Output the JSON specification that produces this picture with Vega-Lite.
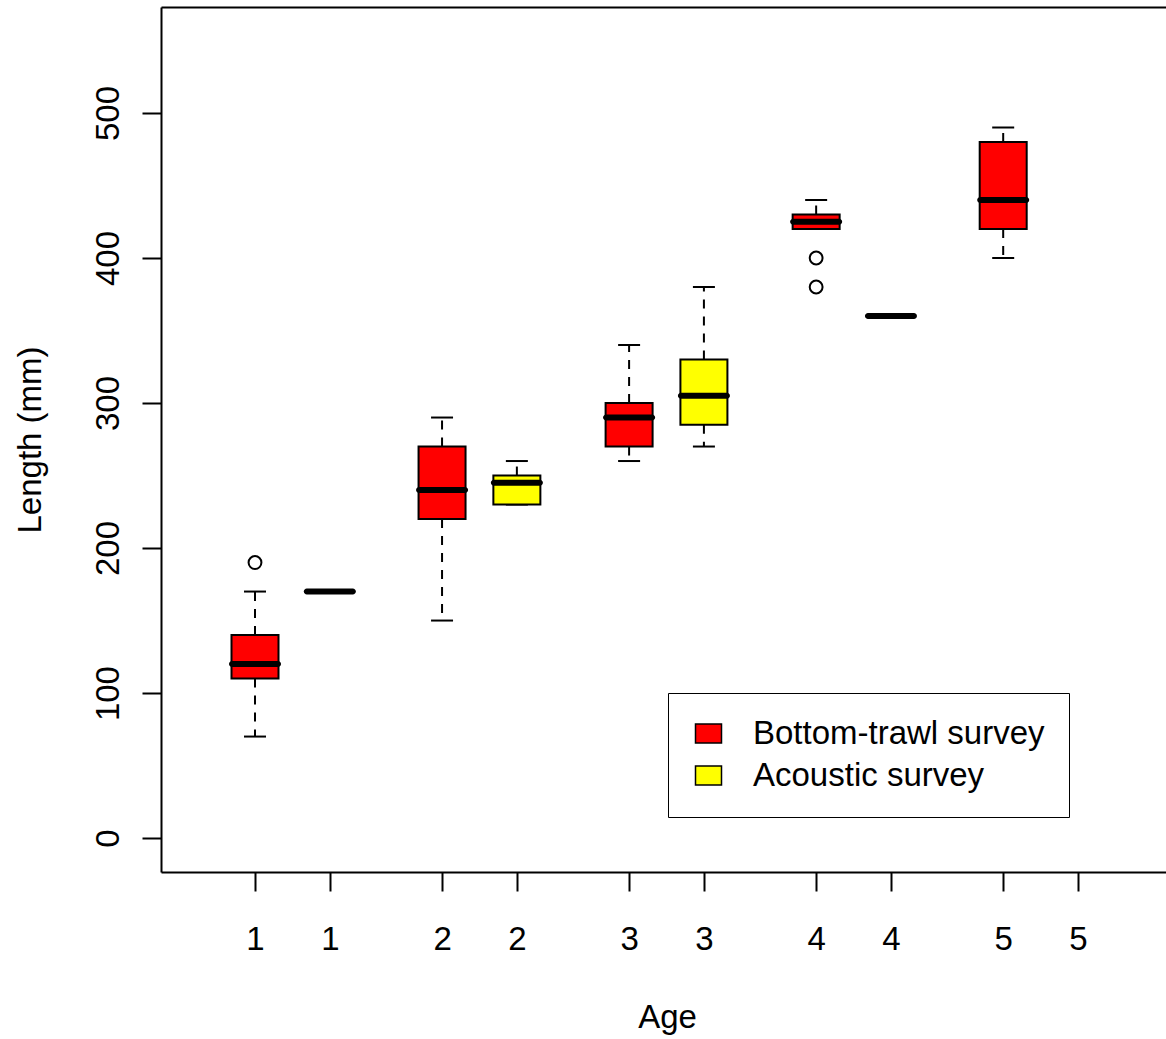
{
  "$schema": "https://vega.github.io/schema/vega-lite/v6.json",
  "width": 1005,
  "height": 865,
  "autosize": "none",
  "padding": {"left": 161, "top": 7, "right": 0, "bottom": 167},
  "background": "white",
  "config": {
    "view": {"stroke": null},
    "font": "Liberation Sans",
    "axis": {
      "grid": false,
      "domainColor": "black",
      "domainWidth": 2,
      "tickColor": "black",
      "tickWidth": 2,
      "labelColor": "black",
      "titleColor": "black",
      "labelFont": "Liberation Sans",
      "titleFont": "Liberation Sans",
      "labelFontSize": 33,
      "titleFontSize": 33,
      "titleFontWeight": "normal"
    }
  },
  "datasets": {
    "boxes": [
      {"pos": 1, "survey": "Bottom-trawl survey", "lower": 70, "q1": 110, "median": 120, "q3": 140, "upper": 170},
      {"pos": 2, "survey": "Acoustic survey", "lower": 170, "q1": 170, "median": 170, "q3": 170, "upper": 170},
      {"pos": 3.5, "survey": "Bottom-trawl survey", "lower": 150, "q1": 220, "median": 240, "q3": 270, "upper": 290},
      {"pos": 4.5, "survey": "Acoustic survey", "lower": 230, "q1": 230, "median": 245, "q3": 250, "upper": 260},
      {"pos": 6, "survey": "Bottom-trawl survey", "lower": 260, "q1": 270, "median": 290, "q3": 300, "upper": 340},
      {"pos": 7, "survey": "Acoustic survey", "lower": 270, "q1": 285, "median": 305, "q3": 330, "upper": 380},
      {"pos": 8.5, "survey": "Bottom-trawl survey", "lower": 420, "q1": 420, "median": 425, "q3": 430, "upper": 440},
      {"pos": 9.5, "survey": "Acoustic survey", "lower": 360, "q1": 360, "median": 360, "q3": 360, "upper": 360},
      {"pos": 11, "survey": "Bottom-trawl survey", "lower": 400, "q1": 420, "median": 440, "q3": 480, "upper": 490}
    ],
    "outliers": [
      {"pos": 1, "survey": "Bottom-trawl survey", "value": 190},
      {"pos": 8.5, "survey": "Bottom-trawl survey", "value": 400},
      {"pos": 8.5, "survey": "Bottom-trawl survey", "value": 380}
    ]
  },
  "layer": [
    {
      "data": {"name": "boxes"},
      "mark": {"type": "rule", "strokeDash": [9, 8], "strokeWidth": 2, "color": "black", "strokeCap": "butt"},
      "encoding": {
        "x": {"field": "pos", "type": "quantitative", "scale": {"domain": [-0.2564, 13.176], "nice": false, "zero": false, "padding": 0},
          "axis": {"orient": "bottom", "values": [1, 2, 3.5, 4.5, 6, 7, 8.5, 9.5, 11, 12],
            "labelExpr": "floor((datum.value - 1) / 2.5) + 1",
            "tickSize": 19, "labelPadding": 58, "labelBaseline": "alphabetic", "labelAlign": "center",
            "labelFlush": false, "labelOverlap": false,
            "title": "Age", "titleBaseline": "alphabetic", "titleX": 506, "titleY": 155, "titleAlign": "center"}},
        "y": {"field": "q1", "type": "quantitative", "scale": {"domain": [-23.4, 573.1], "nice": false, "zero": false, "padding": 0},
          "axis": {"values": [0, 100, 200, 300, 400, 500], "tickSize": 19, "labelAngle": -90, "labelAlign": "center",
            "labelBaseline": "alphabetic", "labelPadding": 24, "labelFlush": false, "labelOverlap": false,
            "title": "Length (mm)", "titleAngle": -90, "titleBaseline": "alphabetic", "titleAlign": "center",
            "titleX": -121, "titleY": 432.5}},
        "y2": {"field": "lower"}
      }
    },
    {
      "data": {"name": "boxes"},
      "mark": {"type": "rule", "strokeDash": [9, 8], "strokeWidth": 2, "color": "black", "strokeCap": "butt"},
      "encoding": {
        "x": {"field": "pos", "type": "quantitative", "axis": null},
        "y": {"field": "q3", "type": "quantitative", "title": "Length (mm)"},
        "y2": {"field": "upper"}
      }
    },
    {
      "data": {"name": "boxes"},
      "mark": {"type": "tick", "orient": "horizontal", "size": 22, "thickness": 2, "color": "black", "opacity": 1},
      "encoding": {
        "x": {"field": "pos", "type": "quantitative", "axis": null},
        "y": {"field": "lower", "type": "quantitative", "title": "Length (mm)"}
      }
    },
    {
      "data": {"name": "boxes"},
      "mark": {"type": "tick", "orient": "horizontal", "size": 22, "thickness": 2, "color": "black", "opacity": 1},
      "encoding": {
        "x": {"field": "pos", "type": "quantitative", "axis": null},
        "y": {"field": "upper", "type": "quantitative", "title": "Length (mm)"}
      }
    },
    {
      "data": {"name": "boxes"},
      "mark": {"type": "bar", "size": 47, "stroke": "black", "strokeWidth": 2, "opacity": 1},
      "encoding": {
        "x": {"field": "pos", "type": "quantitative", "axis": null},
        "y": {"field": "q1", "type": "quantitative", "title": "Length (mm)"},
        "y2": {"field": "q3"},
        "fill": {"field": "survey", "type": "nominal",
          "scale": {"domain": ["Bottom-trawl survey", "Acoustic survey"], "range": ["#FF0000", "#FFFF00"]},
          "legend": {"orient": "none", "legendX": 507, "legendY": 686, "title": null,
            "strokeColor": "black", "padding": 24, "rowPadding": 8,
            "symbolType": "M-1,-0.73H1V0.73H-1Z", "symbolSize": 676, "symbolStrokeColor": "black",
            "symbolStrokeWidth": 1.5, "symbolOpacity": 1,
            "labelFontSize": 33, "labelFont": "Liberation Sans", "labelColor": "black",
            "labelOffset": 28, "labelLimit": 500, "labelBaseline": "middle"}}
      }
    },
    {
      "data": {"name": "boxes"},
      "mark": {"type": "tick", "orient": "horizontal", "size": 52, "thickness": 6, "color": "black", "opacity": 1, "cornerRadius": 3},
      "encoding": {
        "x": {"field": "pos", "type": "quantitative",
          "axis": {"orient": "top", "ticks": false, "labels": false, "title": null, "domain": true}},
        "y": {"field": "median", "type": "quantitative", "title": "Length (mm)"}
      }
    },
    {
      "data": {"name": "outliers"},
      "mark": {"type": "point", "shape": "circle", "filled": false, "stroke": "black", "strokeWidth": 2, "size": 165, "opacity": 1},
      "encoding": {
        "x": {"field": "pos", "type": "quantitative", "axis": null},
        "y": {"field": "value", "type": "quantitative", "title": "Length (mm)"}
      }
    }
  ],
  "resolve": {"axis": {"x": "independent"}}
}
